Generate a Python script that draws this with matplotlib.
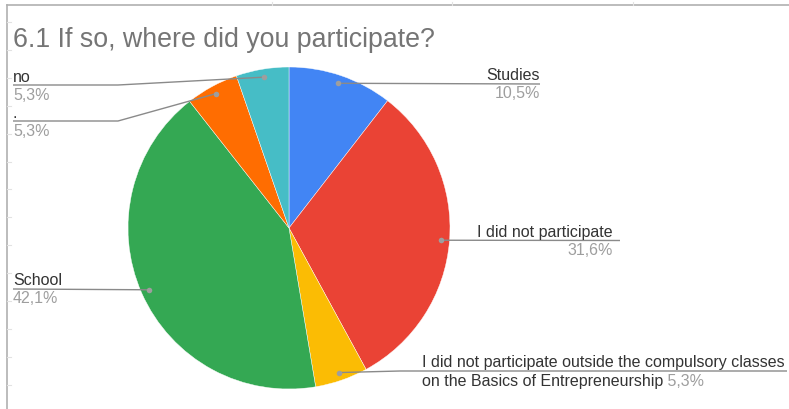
import numpy as np
import matplotlib.pyplot as plt

plt.rcParams['font.family'] = ['Liberation Sans', 'DejaVu Sans']

labels = ['Studies', 'I did not participate',
          'I did not participate outside the compulsory classes\non the Basics of Entrepreneurship',
          'School', '.', 'no']
shares = [10.5, 31.6, 5.3, 42.1, 5.3, 5.3]
colors = ['#4285F4', '#EA4335', '#FBBC04', '#34A853', '#FF6D01', '#46BDC6']

W, H = 789, 410
cx, cy, r = 289, 229, 161

fig = plt.figure(figsize=(W / 100, H / 100), dpi=100)
ax = fig.add_axes([0, 0, 1, 1])

# sheet frame with faint ticks
ax.plot([7, W], [6, 6], color='#b0b0b0', lw=1.2)
ax.plot([7, 7], [6, H], color='#b0b0b0', lw=1.2)
for ty in np.arange(23, H, 27.9):
    ax.plot([7, 11], [ty, ty], color='#e2e2e2', lw=0.8)
for tx in [272, 452, 633]:
    ax.plot([tx, tx], [3, 6], color='#e2e2e2', lw=0.8)

ax.text(13, 40, '6.1 If so, where did you participate?', fontsize=19.3,
        color='#757575', va='center', ha='left')

# y axis is inverted, so counterclock here runs clockwise on screen
ax.pie(shares, colors=colors, startangle=-90, counterclock=True,
       center=(cx, cy), radius=r, frame=True,
       wedgeprops=dict(edgecolor='white', linewidth=0.3))
ax.set_xlim(0, W)
ax.set_ylim(H, 0)
ax.set_aspect('equal')
ax.axis('off')

# leader layout: (elbow x or None, line y, end x, text x, align)
leaders = [
    (None, 85, 540, 540, 'right'),
    (None, 241.5, 620, 613, 'right'),
    (400, 372, 787, 422, 'left'),
    (None, 290, 13, 13, 'left'),
    (118, 122, 13, 13, 'left'),
    (118, 86, 13, 13, 'left'),
]

total = sum(shares)
start = 0.0
for lab, v, (ex, ly, endx, tx, ha) in zip(labels, shares, leaders):
    mid = (start + v / 2) / total * 2 * np.pi
    start += v
    dx = cx + 0.95 * r * np.sin(mid)
    dy = cy - 0.95 * r * np.cos(mid)
    if ex is None:
        xs, ys = [dx, endx], [dy, ly]
    else:
        xs, ys = [dx, ex, endx], [dy, ly, ly]
    ax.plot(xs, ys, color='#8a8a8a', lw=1.0, solid_capstyle='butt')
    ax.plot(dx, dy, 'o', ms=4, color='#9e9e9e', mec='none')
    pct = f'{v:.1f}'.replace('.', ',') + '%'
    if '\n' in lab:
        first, second = lab.split('\n')
        ax.text(tx, ly - 1.5, first, fontsize=11.5, color='#333333',
                ha='left', va='bottom')
        t2 = ax.text(tx, ly + 2, second, fontsize=11.5, color='#333333',
                     ha='left', va='top')
        ax.annotate(' ' + pct, xy=(1, 0), xycoords=t2, fontsize=11.5,
                    color='#9e9e9e', ha='left', va='bottom')
    else:
        ax.text(tx, ly - 1.5, lab, fontsize=11.5, color='#333333',
                ha=ha, va='bottom')
        ax.text(tx, ly + 1.5, pct, fontsize=11.5, color='#9e9e9e',
                ha=ha, va='top')

fig.savefig('out.png', dpi=100, facecolor='white')
